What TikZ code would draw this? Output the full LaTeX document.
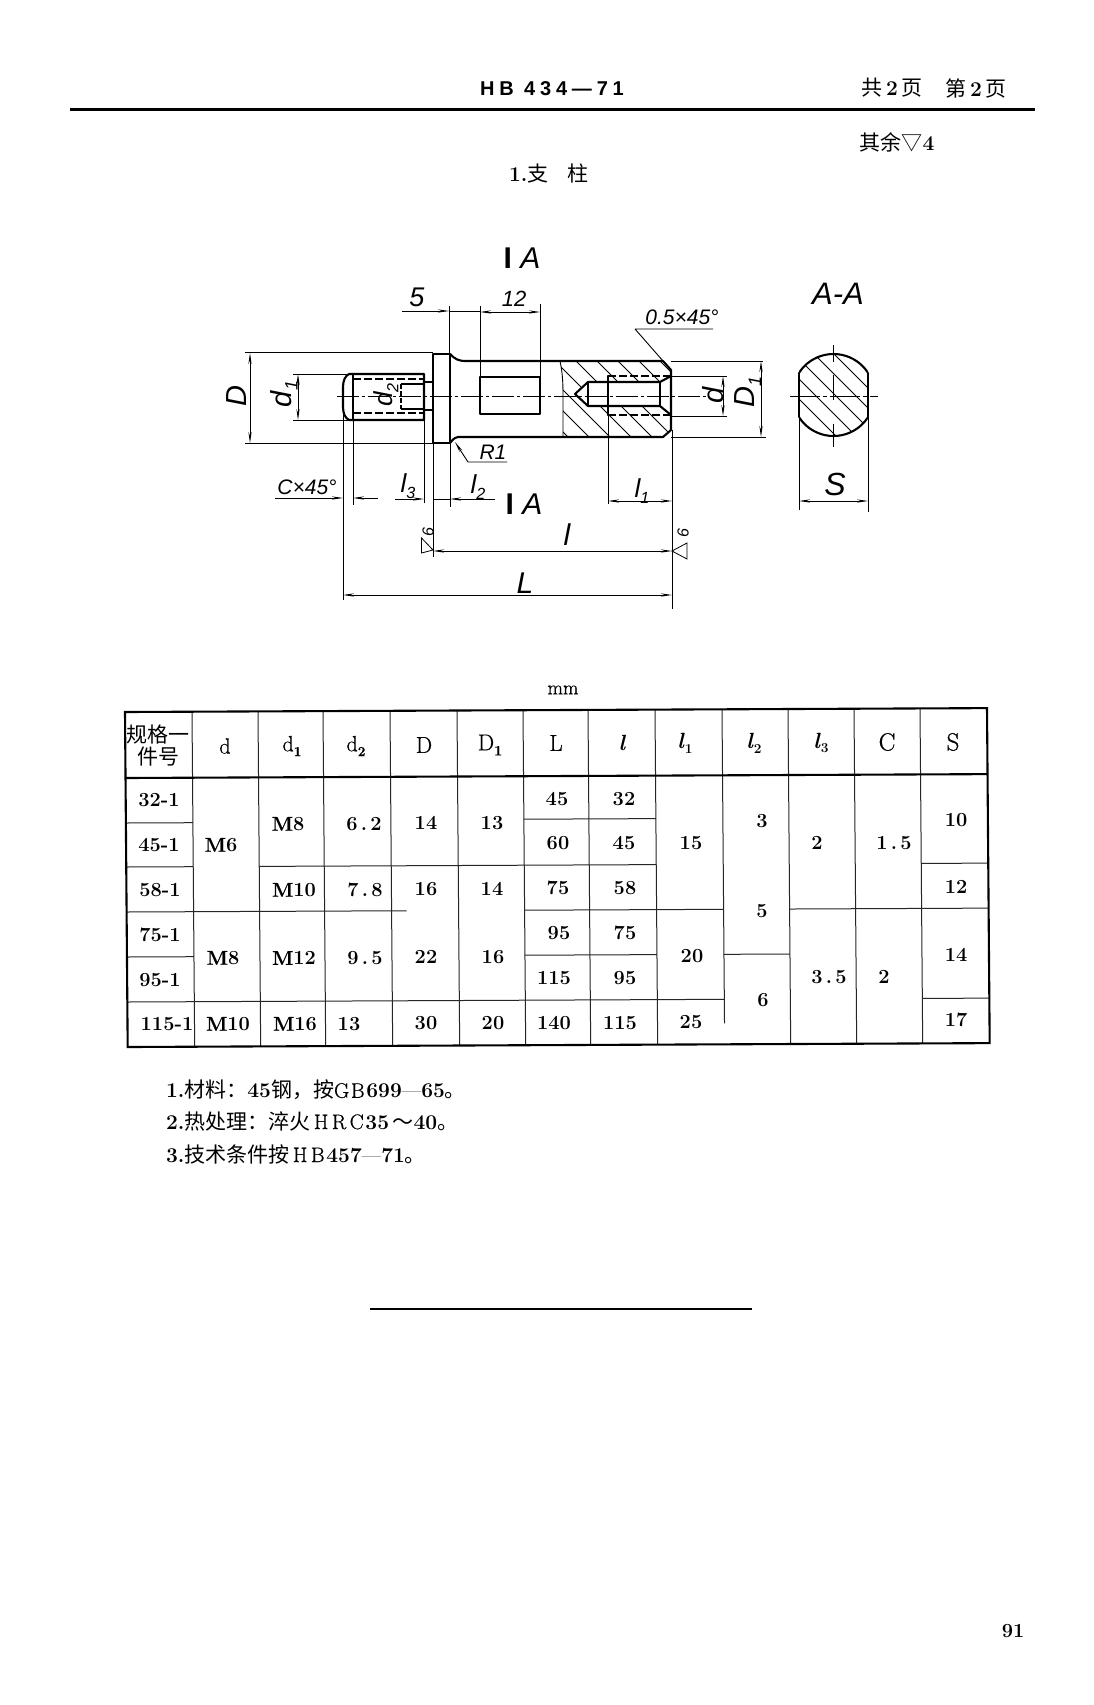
\documentclass[tikz,border=0pt]{standalone}
\usepackage{fontspec}
\usetikzlibrary{arrows.meta}
\newfontfamily\cjk{Noto Sans CJK SC}
\newfontfamily\hand{Liberation Sans}
\newfontfamily\hbf[LetterSpace=24]{Liberation Sans}
\newfontfamily\semi[FakeBold=0.7]{Latin Modern Roman}
\newfontfamily\wide[LetterSpace=8,FakeBold=0.5]{Latin Modern Roman}
\newcommand\fz[1]{\fontsize{#1}{#1}\selectfont}
\newcommand\sbs[1]{\raisebox{-0.22em}{\scalebox{0.62}{#1}}}
\newcommand\cell[3]{\node[tc] (#1) at (#2) {#3};}
\tikzset{
 outl/.style={line width=2.1pt,line join=round,line cap=round},
 thinl/.style={line width=0.9pt},
 dim/.style={line width=0.9pt,{Stealth[length=11pt,width=3.2pt]}-{Stealth[length=11pt,width=3.2pt]}},
 dimr/.style={line width=0.9pt,-{Stealth[length=11pt,width=3.2pt]}},
 dash1/.style={line width=2pt,dash pattern=on 8pt off 3pt},
 cline/.style={line width=0.7pt,dash pattern=on 22pt off 3pt on 3pt off 3pt},
 hatchl/.style={line width=0.8pt},
 hd/.style={inner sep=0pt,outer sep=0pt},
 tc/.style={inner sep=0pt,outer sep=0pt,font=\fz{20}\bfseries},
 grid/.style={line width=1pt,black!85},
 frame/.style={line width=2.1pt}
}
\begin{document}
\begin{tikzpicture}[x=1pt,y=-1pt]
\useasboundingbox (0,0) rectangle (1094,1705);
\fill[white] (0,0) rectangle (1094,1705);

% ---- header
\node[hd,font=\hbf\bfseries\fz{20}] (code) at (552,89) {HB 434—71};
\node[hd,font=\fz{21}] (pg1) at (892,88) {{\cjk 共}\,\textbf{2}\,{\cjk 页}};
\node[hd,font=\fz{21}] (pg2) at (976,88) {{\cjk 第}\,\textbf{2}\,{\cjk 页}};
\draw[line width=3pt] (70,109.5) -- (1035,109.5);
\node[hd,font=\fz{21}] (rest) at (897,142) {{\cjk 其余▽}\textbf{4}};
\node[hd,font=\fz{21},anchor=west] (title) at (509,174) {\textbf{1.}{\cjk 支\hspace{0.9em}柱}};

% ---- main view: hatching
\begin{scope}
 \clip (560,361) .. controls (563,375) and (563,385) .. (563,400) -- (563,437) -- (663,437) -- (671,430) -- (671,370) -- (663,361) -- cycle;
 \foreach \c in {-110,-131,-152,-173,-194,-215,-236,-257,-278,-299,-320}{
   \draw[hatchl] (520,520+\c) -- (700,700+\c);
 }
\end{scope}
\fill[white] (575,394) -- (588,382) -- (660,382) -- (671,376) -- (671,415) -- (660,406) -- (588,406) -- cycle;

% ---- main view: outline
\draw[outl] (433,354) rectangle (450,443);
\draw[outl] (450,354) .. controls (455,359) and (458,361) .. (466,361) -- (663,361) -- (671,370) -- (671,430) -- (663,437) -- (458,437) .. controls (454,438) and (452,440) .. (450,443);
% stud
\draw[outl] (424,382) -- (433,382) (424,410) -- (433,410);
\draw[outl] (424,374) -- (349,374) .. controls (345,376) and (343,381) .. (343,387) -- (343,407) .. controls (343,413) and (345,418) .. (349,420) -- (424,420) -- cycle;
\draw[outl] (353,374) -- (353,420);
\draw[dash1] (353,379) -- (424,379) (353,413) -- (424,413);
\draw[thinl,line width=1.4pt,dash pattern=on 5pt off 2pt] (401,384) -- (401,409);
\draw[line width=1.1pt] (401,384) -- (424,384) (401,409) -- (424,409);
% flat window
\draw[outl] (480,377) rectangle (540,414);
% threaded hole
\draw[thinl] (560,361) .. controls (563,375) and (563,385) .. (563,400) -- (563,437);
\draw[outl] (575,394) -- (588,382) -- (660,382) -- (671,376);
\draw[outl] (575,394) -- (588,406) -- (660,406) -- (671,415);
\draw[outl] (588,382) -- (588,406) (608,376) -- (608,415) (660,382) -- (660,406);
\draw[dash1] (608,376) -- (671,376) (608,415) -- (671,415);
% centre line
\draw[cline] (337,396) -- (708,396);

% ---- extension lines
\draw[thinl] (245,352.5) -- (433,352.5) (245,443.5) -- (433,443.5);
\draw[thinl] (293,374) -- (349,374) (293,420) -- (349,420);
\draw[thinl] (449,306) -- (449,354) (480,306) -- (480,377) (540,304) -- (540,377);
\draw[thinl] (671,361) -- (763,361) (671,437) -- (766,437);
\draw[thinl] (671,376) -- (727,376) (671,416) -- (727,416);
\draw[thinl] (343,408) -- (343,600) (353,420) -- (353,505) (424,420) -- (424,503);
\draw[thinl] (433,443) -- (433,557) (450,443) -- (450,507);
\draw[thinl] (608,415) -- (608,504) (672,430) -- (672,609);
\draw[thinl] (635,329) -- (663,361) (635,329) -- (713,329);

% ---- dimensions
\coordinate (dDa) at (250,353); \coordinate (dDb) at (250,443);
\draw[dim] (dDa) -- (dDb);
\coordinate (dd1a) at (298,374); \coordinate (dd1b) at (298,420);
\draw[dim] (dd1a) -- (dd1b);
\coordinate (d5a) at (402,311); \coordinate (d5b) at (449,311);
\draw[dimr] (d5a) -- (d5b);
\draw[thinl] (449,311) -- (480,311);
\coordinate (d12a) at (480,312); \coordinate (d12b) at (540,312);
\draw[dim] (d12a) -- (d12b);
\coordinate (dCa) at (275,498); \coordinate (dCb) at (343,498);
\draw[dimr] (dCa) -- (dCb);
\coordinate (dCc) at (378,498); \coordinate (dCd) at (353,498);
\draw[dimr] (dCc) -- (dCd);
\coordinate (dl3a) at (395,499); \coordinate (dl3b) at (424,499);
\draw[dimr] (dl3a) -- (dl3b);
\coordinate (dl2a) at (495,499); \coordinate (dl2b) at (450,499);
\draw[dimr] (dl2a) -- (dl2b);
\draw[thinl] (433,499) -- (450,499);
\coordinate (dl1a) at (608,501); \coordinate (dl1b) at (672,501);
\draw[dim] (dl1a) -- (dl1b);
\coordinate (dla) at (433,551); \coordinate (dlb) at (672,551);
\draw[dim] (dla) -- (dlb);
\coordinate (dLa) at (343,595); \coordinate (dLb) at (672,595);
\draw[dim] (dLa) -- (dLb);
\coordinate (dD1a) at (761,361); \coordinate (dD1b) at (761,437);
\draw[dim] (dD1a) -- (dD1b);
\coordinate (dda) at (723,376); \coordinate (ddb) at (723,416);
\draw[dim] (dda) -- (ddb);
\coordinate (dSa) at (799,501); \coordinate (dSb) at (868,501);
\draw[dim] (dSa) -- (dSb);
% R1 leader
\coordinate (r1a) at (507,462); \coordinate (r1b) at (468,462); \coordinate (r1c) at (455,442);
\draw[dimr] (r1a) -- (r1b) -- (r1c);
% surface marks
\draw[line width=0.8pt] (433,550) -- (421.5,538) -- (421.5,553) -- cycle;
\draw[line width=0.8pt] (672,551) -- (687,543) -- (687,559) -- cycle;

% ---- section A-A
\begin{scope}
 \clip (799,340) rectangle (868,450);
 \clip (833.5,395) circle[radius=41pt];
 \foreach \c in {-520,-500,-480,-460,-440,-420,-400}{
   \draw[hatchl] (780,780+\c) -- (890,890+\c);
 }
\end{scope}
\begin{scope}
 \clip (799,340) rectangle (868,450);
 \draw[outl] (833.5,395) circle[radius=41pt];
\end{scope}
\draw[outl] (799,373) -- (799,417) (868,373) -- (868,417);
\draw[cline,dash pattern=on 30pt off 3pt on 4pt off 3pt] (790,396) -- (878,396);
\draw[thinl] (833,345) -- (833,362) (833,375) -- (833,400) (833,424) -- (833,447);
\draw[thinl] (799,417) -- (799,510) (868,417) -- (868,512);

% ---- handwritten labels
\node[hd,font=\hand\fz{30}] (ia) at (522,258) {\textbf{I} \textit{A}};
\node[hd,font=\hand\fz{30}] (ib) at (524,504) {\textbf{I} \textit{A}};
\node[hd,font=\hand\itshape\fz{31}] (aa) at (838,294) {A-A};
\node[hd,font=\hand\itshape\fz{27}] (l5) at (417,297) {5};
\node[hd,font=\hand\itshape\fz{22}] (l12) at (514,299) {12};
\node[hd,font=\hand\itshape\fz{21}] (l05) at (682,317) {0.5×45°};
\node[hd,font=\hand\itshape\fz{29},rotate=90] (lD) at (237,396) {D};
\node[hd,font=\hand\itshape\fz{29},rotate=90] (ld1) at (284,394) {d\sbs{1}};
\node[hd,font=\hand\itshape\fz{26},rotate=90] (ld2) at (386,395) {d\sbs{2}};
\node[hd,font=\hand\itshape\fz{29},rotate=90] (ld) at (713,395) {d};
\node[hd,font=\hand\itshape\fz{29},rotate=90] (lD1) at (748,392) {D\sbs{1}};
\node[hd,font=\hand\itshape\fz{21}] (lR) at (493,452) {R1};
\node[hd,font=\hand\itshape\fz{21}] (lC) at (307,487) {C×45°};
\node[hd,font=\hand\itshape\fz{26}] (ll3) at (408,486) {l\sbs{3}};
\node[hd,font=\hand\itshape\fz{26}] (ll2) at (478,487) {l\sbs{2}};
\node[hd,font=\hand\itshape\fz{26}] (ll1) at (642,491) {l\sbs{1}};
\node[hd,font=\hand\itshape\fz{30}] (ll) at (567,535) {l};
\node[hd,font=\hand\itshape\fz{30}] (lL) at (525,583) {L};
\node[hd,font=\hand\itshape\fz{32}] (lS) at (835,484) {S};
\node[hd,font=\hand\itshape\fz{16},rotate=90] (l6a) at (428,532) {6};
\node[hd,font=\hand\itshape\fz{16},rotate=90] (l6b) at (683,533) {6};

\node[hd,font=\semi\fz{20}] (mm) at (563,690) {mm};

% ---- table grid (slightly skewed like the scan)
\begin{scope}[cm={1,0.0045,-0.008,1,(125pt,-712pt)}]
 \foreach \x in {67,133,198,265,332,398,463,530,663,729,795}{
   \draw[grid] (\x,0) -- (\x,335);
 }
 \draw[grid] (597,0) -- (597,314);
 % horizontal rows
 \draw[grid] (0,111) -- (67,111) (398,109) -- (530,109);
 \draw[grid] (0,155) -- (67,155) (133,155) -- (530,155) (795,155) -- (862,155);
 \draw[grid] (0,200) -- (280,200) (398,200) -- (597,200) (663,200) -- (862,200);
 \draw[grid] (0,245) -- (67,245) (398,245) -- (530,245) (597,245) -- (663,245);
 \draw[grid] (0,290) -- (597,290) (795,290) -- (862,290);
 % frame
 \draw[frame] (0,0) rectangle (862,335);
 \draw[frame] (0,66) -- (862,66);
\end{scope}

% ---- table text
\node[hd,font=\fz{21}] (h0a) at (158,735) {{\cjk 规格一}};
\node[hd,font=\fz{21}] (h0b) at (158,757) {{\cjk 件号}};
\node[hd,font=\semi\fz{22}] (h1) at (225,746) {d};
\node[hd,font=\semi\fz{22}] (h2) at (292,746) {d\sbs{\textbf{1}}};
\node[hd,font=\semi\fz{22}] (h3) at (356,746) {d\sbs{\textbf{2}}};
\node[hd,font=\semi\fz{23}] (h4) at (424,745) {D};
\node[hd,font=\semi\fz{23}] (h5) at (490,745) {D\sbs{\textbf{1}}};
\node[hd,font=\semi\fz{23}] (h6) at (556,743) {L};
\node[hd,font=\fz{22}\bfseries\itshape] (h7) at (622,743) {l};
\node[hd,font=\fz{22}\bfseries] (h8) at (685,743) {\textit{l}\sbs{1}};
\node[hd,font=\fz{22}\bfseries] (h9) at (754,743) {\textit{l}\sbs{2}};
\node[hd,font=\fz{22}\bfseries] (h10) at (821,743) {\textit{l}\sbs{3}};
\node[hd,font=\semi\fz{25}] (h11) at (887,742) {C};
\node[hd,font=\semi\fz{25}] (h12) at (953,742) {S};

\cell{a1}{159,800}{32-1}
\cell{a2}{159,845}{45-1}
\cell{a3}{160,890}{58-1}
\cell{a4}{160,935}{75-1}
\cell{a5}{160,980}{95-1}
\cell{a6}{167,1024}{115-1}
\cell{b1}{221,845}{{\semi M}\textbf{6}}
\cell{b2}{223,958}{{\semi M}\textbf{8}}
\cell{b3}{228,1024}{{\semi M}\textbf{10}}
\cell{c1}{288,824}{{\semi M}\textbf{8}}
\cell{c2}{294,890}{{\semi M}\textbf{10}}
\cell{c3}{294,958}{{\semi M}\textbf{12}}
\cell{c4}{295,1024}{{\semi M}\textbf{16}}
\cell{e1}{364,824}{6\,.\,2}
\cell{e2}{365,890}{7\,.\,8}
\cell{e3}{365,958}{9\,.\,5}
\cell{e4}{349,1024}{13}
\cell{f1}{426,823}{14}
\cell{f2}{426,889}{16}
\cell{f3}{426,957}{22}
\cell{f4}{426,1023}{30}
\cell{g1}{492,823}{13}
\cell{g2}{492,889}{14}
\cell{g3}{493,957}{16}
\cell{g4}{493,1023}{20}
\cell{i1}{557,799}{45}
\cell{i2}{558,843}{60}
\cell{i3}{558,888}{75}
\cell{i4}{559,933}{95}
\cell{i5}{554,978}{115}
\cell{i6}{554,1023}{140}
\cell{j1}{624,799}{32}
\cell{j2}{624,843}{45}
\cell{j3}{625,888}{58}
\cell{j4}{625,933}{75}
\cell{j5}{625,978}{95}
\cell{j6}{620,1023}{115}
\cell{k1}{691,843}{15}
\cell{k2}{692,956}{20}
\cell{k3}{691,1022}{25}
\cell{m1}{762,821}{3}
\cell{m2}{762,911}{5}
\cell{m3}{763,1000}{6}
\cell{n1}{817,843}{2}
\cell{n2}{829,977}{3\,.\,5}
\cell{o1}{894,843}{1\,.\,5}
\cell{o2}{884,977}{2}
\cell{p1}{956,820}{10}
\cell{p2}{956,887}{12}
\cell{p3}{956,955}{14}
\cell{p4}{956,1020}{17}

% ---- notes
\node[hd,anchor=west,font=\fz{21}] (n1t) at (166,1090) {\textbf{1.}{\cjk 材料：}\textbf{45}{\cjk 钢，按}{\wide GB}\textbf{699}—\textbf{65}{\cjk 。}};
\node[hd,anchor=west,font=\fz{21}] (n2t) at (166,1121) {\textbf{2.}{\cjk 热处理：淬火}\,{\wide H\,R\,C}\textbf{35}\,{\cjk ～}\textbf{40}{\cjk 。}};
\node[hd,anchor=west,font=\fz{21}] (n3t) at (166,1154) {\textbf{3.}{\cjk 技术条件按}\,{\wide H\,B}\textbf{457}—\textbf{71}{\cjk 。}};

\draw[line width=1.5pt] (370,1309) -- (752,1309);
\node[hd,font=\fz{20}\bfseries] (pno) at (1013,1631) {91};
\end{tikzpicture}
\end{document}
